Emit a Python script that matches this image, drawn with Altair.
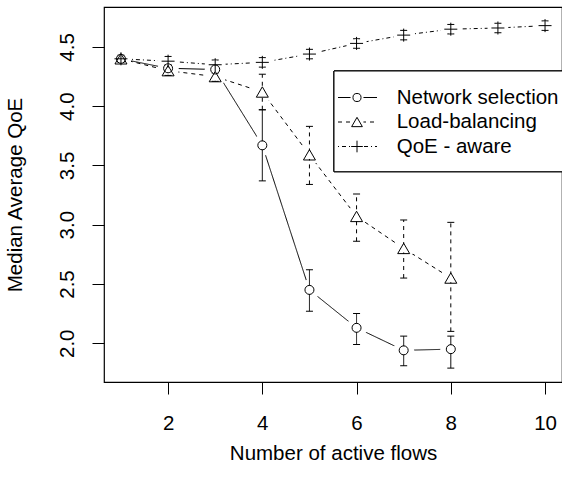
import altair as alt
import pandas as pd

series_names = ["Network selection", "Load-balancing", "QoE - aware"]

x_net = [1, 2, 3, 4, 5, 6, 7, 8]
y_net = [4.40, 4.32, 4.31, 3.67, 2.45, 2.13, 1.94, 1.95]
lo_net = [4.38, 4.29, 4.28, 3.37, 2.27, 1.99, 1.81, 1.79]
hi_net = [4.42, 4.35, 4.34, 3.97, 2.62, 2.25, 2.06, 2.06]

x_lb = [1, 2, 3, 4, 5, 6, 7, 8]
y_lb = [4.40, 4.30, 4.25, 4.12, 3.59, 3.07, 2.80, 2.55]
lo_lb = [4.38, 4.26, 4.21, 3.97, 3.34, 2.86, 2.55, 2.10]
hi_lb = [4.42, 4.34, 4.30, 4.27, 3.83, 3.26, 3.04, 3.02]

x_qoe = [1, 2, 3, 4, 5, 6, 7, 8, 9, 10]
y_qoe = [4.40, 4.38, 4.35, 4.37, 4.44, 4.53, 4.60, 4.65, 4.66, 4.68]
lo_qoe = [4.37, 4.34, 4.31, 4.33, 4.40, 4.49, 4.56, 4.61, 4.62, 4.64]
hi_qoe = [4.43, 4.42, 4.39, 4.41, 4.48, 4.57, 4.64, 4.69, 4.70, 4.72]

x_ticks = [2, 4, 6, 8, 10]
y_ticks = [2.0, 2.5, 3.0, 3.5, 4.0, 4.5]

FONT = "Liberation Sans"
FS = 20.5

frames = []
for name, xs, ys, los, his in [
    (series_names[0], x_net, y_net, lo_net, hi_net),
    (series_names[1], x_lb, y_lb, lo_lb, hi_lb),
    (series_names[2], x_qoe, y_qoe, lo_qoe, hi_qoe),
]:
    frames.append(pd.DataFrame({"series": name, "x": xs, "y": ys, "lo": los, "hi": his}))
df = pd.concat(frames, ignore_index=True)

# R-style 4% axis expansion
xmin, xmax = min(df["x"]), max(df["x"])
ymin, ymax = min(df["lo"]), max(df["hi"])
xr, yr = xmax - xmin, ymax - ymin
xdom = [xmin - 0.04 * xr, xmax + 0.04 * xr]
ydom = [ymin - 0.04 * yr, ymax + 0.04 * yr]

W, H = 458, 375

xscale = alt.Scale(domain=xdom, nice=False, zero=False)
yscale = alt.Scale(domain=ydom, nice=False, zero=False)

dash_scale = alt.Scale(domain=series_names, range=[[1, 0], [4, 4], [1, 3, 4, 3]])

X = alt.X("x:Q", scale=xscale, axis=alt.Axis(
    values=x_ticks, format="d", title="Number of active flows",
    tickSize=12, labelPadding=19, titleY=77, titleBaseline="alphabetic",
))
Y = alt.Y("y:Q", scale=yscale, axis=alt.Axis(
    values=y_ticks, format=".1f", title="Median Average QoE",
    tickSize=12, labelPadding=19, labelAngle=270, labelAlign="center",
    labelBaseline="alphabetic", titleAngle=270, titleX=-83, titleY=H / 2,
    titleBaseline="alphabetic", titleAlign="center",
))

base = alt.Chart(df)

lines = base.mark_line(color="black", strokeWidth=1).encode(
    x=X, y=Y, detail="series:N",
    strokeDash=alt.StrokeDash("series:N", scale=dash_scale, legend=None),
)

big_halo = base.mark_point(shape="circle", filled=True, color="white", opacity=1, size=440, strokeWidth=0).encode(
    x="x:Q", y="y:Q")

err = base.mark_rule(color="black", strokeWidth=1).encode(
    x="x:Q", y="lo:Q", y2="hi:Q",
    strokeDash=alt.StrokeDash("series:N", scale=dash_scale, legend=None),
)
cap_lo = base.mark_tick(orient="horizontal", size=7, thickness=1, color="black", opacity=1).encode(
    x="x:Q", y="lo:Q")
cap_hi = base.mark_tick(orient="horizontal", size=7, thickness=1, color="black", opacity=1).encode(
    x="x:Q", y="hi:Q")

small_halo = base.mark_point(shape="circle", filled=True, color="white", opacity=1, size=70, strokeWidth=0).encode(
    x="x:Q", y="y:Q")

shapes = ["circle", "triangle-up", "M-1,0L1,0M0,-1L0,1"]
sizes = [81, 144, 169]
markers = []
for name, shp, sz in zip(series_names, shapes, sizes):
    markers.append(
        alt.Chart(df).transform_filter(alt.datum.series == name)
        .mark_point(shape=shp, size=sz, filled=False, color="black", strokeWidth=1, opacity=1)
        .encode(x="x:Q", y="y:Q")
    )

# legend (pixel positions within plot area)
leg_df = pd.DataFrame({"series": series_names})
legend_layers = [
    alt.Chart(leg_df).mark_rect(fill="white", stroke="black", strokeWidth=1).encode(
        x=alt.value(230), x2=alt.value(520), y=alt.value(64), y2=alt.value(164.7))
]
row_y = [90.5, 115, 139.5]
dashes = [[1, 0], [4, 4], [1, 3, 4, 3]]
for i, name in enumerate(series_names):
    one = alt.Chart(leg_df).transform_filter(alt.datum.series == name)
    legend_layers.append(one.mark_rule(color="black", strokeWidth=1, strokeDash=dashes[i]).encode(
        x=alt.value(234), x2=alt.value(273), y=alt.value(row_y[i])))
    legend_layers.append(one.mark_point(shape="circle", filled=True, color="white", opacity=1, size=170, strokeWidth=0).encode(
        x=alt.value(253), y=alt.value(row_y[i])))
    legend_layers.append(one.mark_point(shape=shapes[i], size=sizes[i] * 0.8, filled=False, color="black", strokeWidth=1, opacity=1).encode(
        x=alt.value(253), y=alt.value(row_y[i])))
    legend_layers.append(one.mark_text(align="left", baseline="middle", font=FONT, fontSize=FS, color="black").encode(
        x=alt.value(292.7), y=alt.value(row_y[i]), text="series:N"))

chart = alt.layer(lines, big_halo, err, cap_lo, cap_hi, small_halo, *markers, *legend_layers).properties(
    width=W, height=H,
    autosize=alt.AutoSizeParams(type="none"),
    padding={"left": 104, "top": 7, "right": 0, "bottom": 98},
).configure_view(
    stroke="black", strokeWidth=1.2,
).configure_axis(
    grid=False, domain=False, tickColor="black", tickWidth=1,
    labelFont=FONT, labelFontSize=FS, labelColor="black",
    titleFont=FONT, titleFontSize=FS, titleFontWeight="normal", titleColor="black",
)

chart.save("out.html", embed_options={"renderer": "svg", "actions": False})
